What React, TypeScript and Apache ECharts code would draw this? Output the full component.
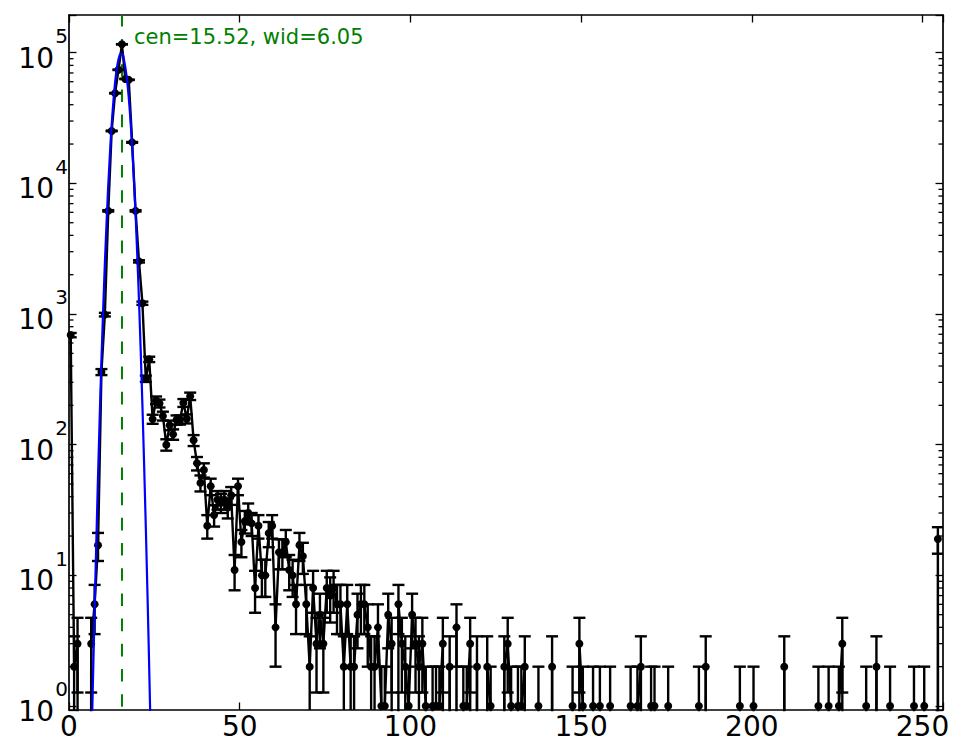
import React, { useEffect, useRef } from "react";
import * as echarts from "echarts";

// Histogram counts per bin (bin i is centred at i + 0.5)
const counts = [
  690, 2, 3, 0, 0, 0, 3, 6, 17, 360, 990, 6160, 25200, 49000, 74000, 116000,
  63000, 62000, 20600, 6160, 2530, 1210, 320, 450, 157, 219, 207, 166, 100, 141, 120, 155,
  155, 209, 158, 235, 108, 72, 51, 64, 24, 48, 29, 38, 36, 38, 33, 41,
  11, 48, 18, 26, 30, 25, 8, 24, 10, 10, 21, 24, 4, 15, 15, 18,
  11, 10, 6, 17, 14, 6, 2, 8, 3, 5, 3, 8, 7, 8, 6, 6,
  2, 6, 2, 2, 5, 6, 6, 4, 2, 2, 4, 1, 1, 5, 3, 0,
  6, 3, 2, 1, 5, 3, 2, 3, 1, 0, 1, 1, 1, 3, 0, 2,
  0, 4, 0, 1, 1, 3, 0, 2, 0, 0, 2, 1, 0, 0, 0, 2,
  3, 1, 0, 1, 1, 2, 0, 0, 0, 1, 0, 0, 0, 2, 0, 0,
  0, 0, 0, 1, 0, 3, 1, 0, 0, 1, 0, 1, 0, 0, 1, 0,
  0, 0, 0, 0, 1, 0, 1, 2, 0, 0, 1, 1, 0, 0, 0, 1,
  0, 0, 0, 0, 0, 0, 0, 0, 1, 0, 2, 0, 0, 0, 0, 0,
  0, 0, 0, 0, 1, 0, 0, 0, 1, 0, 0, 0, 0, 0, 0, 0,
  0, 2, 0, 0, 0, 0, 0, 0, 0, 0, 0, 1, 0, 0, 1, 0,
  0, 1, 3, 0, 0, 0, 0, 0, 0, 1, 0, 0, 2, 0, 0, 0,
  1, 0, 0, 0, 0, 0, 0, 1, 0, 0, 1, 0, 0, 0, 19, 0,
];

// Fitted curve
const fitX = [6.5, 7, 8, 9, 10, 11, 12, 13, 14, 15, 15.5, 16, 17, 18, 19, 20, 21, 22, 23, 24];
const fitY = [0.37, 1.5, 18, 165, 1070, 5000, 17100, 42300, 75500, 97700, 98500, 91600, 62200, 30600, 10900, 2810, 526, 71, 7, 0.5];

const fitCenter = 15.52;
const fitWidth = 6.05;
const annotation = `cen=${fitCenter.toFixed(2)}, wid=${fitWidth.toFixed(2)}`;

const xMin = 0;
const xMax = 256;
const xInterval = 50;
const yMin = 0.932;
const yMax = 194400;
const minorMantissas = [2, 3, 4, 5, 6, 7, 8, 9];
const decades = [1, 10, 100, 1000, 10000, 100000];

const FONT = "'DejaVu Sans'";
const TINY = 1e-30; // stands in for non-positive values on the log axis (clipped off-plot)

export default function App() {
  const ref = useRef<HTMLDivElement>(null);

  useEffect(() => {
    if (!ref.current) return;
    const chart = echarts.init(ref.current, undefined, { renderer: "svg" });

    const lineData = counts.map((c, i) => [i + 0.5, c > 0 ? c : TINY]);
    const errData = counts
      .map((c, i) => {
        if (c <= 0) return null;
        const e = Math.sqrt(c);
        const lo = c - e > 0 ? c - e : TINY;
        return [i + 0.5, c, lo, c + e];
      })
      .filter((d) => d !== null);
    const minorTicks: number[][] = [];
    decades.forEach((d) =>
      minorMantissas.forEach((m) => {
        const v = m * d;
        if (v > yMin && v < yMax) minorTicks.push([xMin, v]);
      })
    );

    const axisLine = { show: true, onZero: false, lineStyle: { color: "#000", width: 1.7 } };
    const axisTick = { show: true, inside: true, length: 7.5, lineStyle: { color: "#000", width: 1.3 } };
    const CAP = 6;
    const LW = 2.4;

    const option: any = {
      animation: false,
      textStyle: { fontFamily: FONT },
      grid: { left: 69, right: 22, top: 15, bottom: 46, containLabel: false, outerBoundsMode: "none" },
      xAxis: [
        {
          type: "value",
          min: xMin,
          max: xMax,
          interval: xInterval,
          position: "bottom",
          axisLine,
          axisTick,
          splitLine: { show: false },
          axisLabel: {
            show: true,
            margin: 2,
            color: "#000",
            fontSize: 28,
            fontFamily: FONT,
            formatter: (v: number) => (v % xInterval === 0 ? String(v) : ""),
          },
        },
        {
          type: "value",
          min: xMin,
          max: xMax,
          interval: xInterval,
          position: "top",
          axisLine,
          axisTick,
          splitLine: { show: false },
          axisLabel: { show: false },
        },
      ],
      yAxis: [
        {
          type: "log",
          logBase: 10,
          min: yMin,
          max: yMax,
          position: "left",
          axisLine,
          axisTick,
          splitLine: { show: false },
          axisLabel: {
            show: true,
            margin: 1,
            color: "#000",
            fontFamily: FONT,
            formatter: (v: number) => {
              const e = Math.log10(v);
              const r = Math.round(e);
              if (Math.abs(e - r) > 1e-6) return "";
              return `{s|${r}}\n{b|10}`;
            },
            rich: {
              s: { fontSize: 20, fontFamily: FONT, color: "#000", lineHeight: 10.6 },
              b: { fontSize: 28, fontFamily: FONT, color: "#000", lineHeight: 33.4, padding: [0, 14, 0, 0] },
            },
          },
        },
        {
          type: "log",
          logBase: 10,
          min: yMin,
          max: yMax,
          position: "right",
          axisLine,
          axisTick,
          splitLine: { show: false },
          axisLabel: { show: false },
        },
      ],
      series: [
        {
          name: "centre",
          type: "line",
          xAxisIndex: 0,
          yAxisIndex: 0,
          data: [
            [fitCenter, yMin],
            [fitCenter, yMax],
          ],
          symbol: "none",
          silent: true,
          clip: true,
          z: 1,
          lineStyle: { color: "#008000", width: 2, type: [12.6, 12.6], dashOffset: 21.9 },
        },
        {
          name: "errors",
          type: "custom",
          xAxisIndex: 0,
          yAxisIndex: 0,
          data: errData,
          encode: { x: 0, y: 1 },
          clip: true,
          silent: true,
          z: 2,
          renderItem: (params: any, api: any) => {
            const x = api.value(0);
            const a = api.coord([x, api.value(2)]);
            const b = api.coord([x, api.value(3)]);
            const st = { stroke: "#000", lineWidth: LW };
            return {
              type: "group",
              children: [
                { type: "line", shape: { x1: a[0], y1: a[1], x2: b[0], y2: b[1] }, style: st },
                { type: "line", shape: { x1: b[0] - CAP, y1: b[1], x2: b[0] + CAP, y2: b[1] }, style: st },
                { type: "line", shape: { x1: a[0] - CAP, y1: a[1], x2: a[0] + CAP, y2: a[1] }, style: st },
              ],
            };
          },
        },
        {
          name: "data",
          type: "line",
          xAxisIndex: 0,
          yAxisIndex: 0,
          data: lineData,
          symbol: "circle",
          symbolSize: 8,
          showSymbol: true,
          clip: true,
          silent: true,
          z: 3,
          itemStyle: { color: "#000" },
          lineStyle: { color: "#000", width: LW },
        },
        {
          name: "fit",
          type: "line",
          xAxisIndex: 0,
          yAxisIndex: 0,
          data: fitX.map((x, i) => [x, fitY[i]]),
          symbol: "none",
          smooth: 0.4,
          clip: true,
          silent: true,
          z: 4,
          lineStyle: { color: "#0000ff", width: 2.2 },
        },
        {
          name: "minorTicks",
          type: "custom",
          xAxisIndex: 0,
          yAxisIndex: 0,
          data: minorTicks,
          encode: { x: 0, y: 1 },
          silent: true,
          z: 5,
          renderItem: (params: any, api: any) => {
            const v = api.value(1);
            const l = api.coord([xMin, v]);
            const r = api.coord([xMax, v]);
            const st = { stroke: "#000", lineWidth: 1.3 };
            return {
              type: "group",
              children: [
                { type: "line", shape: { x1: l[0], y1: l[1], x2: l[0] + 4.5, y2: l[1] }, style: st },
                { type: "line", shape: { x1: r[0] - 4.5, y1: r[1], x2: r[0], y2: r[1] }, style: st },
              ],
            };
          },
        },
      ],
      graphic: [
        {
          type: "text",
          left: 134,
          top: 26,
          silent: true,
          style: {
            text: annotation,
            fill: "#008000",
            fontSize: 21,
            fontFamily: FONT,
          },
        },
      ],
    };

    chart.setOption(option);
    return () => chart.dispose();
  }, []);

  return <div ref={ref} style={{ position: "absolute", left: 0, top: 0, width: 965, height: 756 }} />;
}
